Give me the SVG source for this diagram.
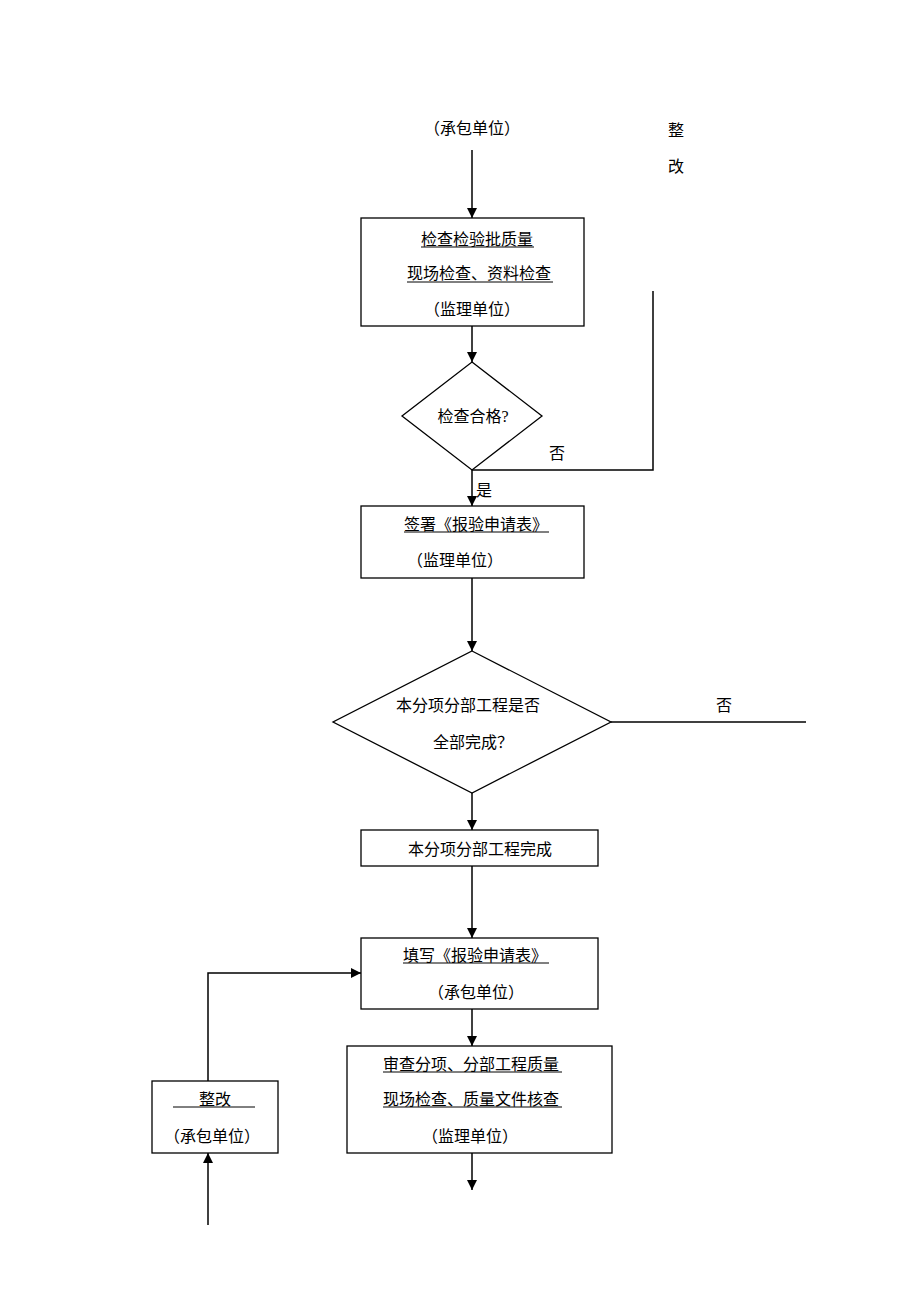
<svg xmlns="http://www.w3.org/2000/svg" width="920" height="1302" viewBox="0 0 920 1302">
<style>
text{font-family:"Liberation Serif","Noto Sans CJK SC",serif;font-size:16px;fill:#000;dominant-baseline:central}
.c{text-anchor:middle}
.s{text-anchor:start}
.box{fill:#fff;stroke:#000;stroke-width:1.3}
.ul{stroke:#000;stroke-width:1}
.ln{fill:none;stroke:#000;stroke-width:1.5}
.arr{fill:none;stroke:#000;stroke-width:1.5;marker-end:url(#ah)}
</style>
<defs>
<marker id="ah" markerWidth="10" markerHeight="10" refX="10" refY="5" orient="auto" markerUnits="userSpaceOnUse">
<path d="M0,0 L10,5 L0,10 Z" fill="#000"/>
</marker>
</defs>
<rect width="920" height="1302" fill="#fff"/>
<g id="connectors">
<line class="arr" x1="472" y1="150" x2="472" y2="218"/>
<line class="arr" x1="472" y1="326" x2="472" y2="362"/>
<polyline class="ln" points="653,291 653,470 472,470"/>
<line class="arr" x1="472" y1="470" x2="472" y2="506"/>
<line class="arr" x1="472" y1="578" x2="472" y2="651"/>
<line class="ln" x1="611" y1="722" x2="806" y2="722"/>
<line class="arr" x1="472" y1="793" x2="472" y2="830"/>
<line class="arr" x1="472" y1="866" x2="472" y2="938"/>
<line class="arr" x1="472" y1="1009" x2="472" y2="1046"/>
<line class="arr" x1="472" y1="1153" x2="472" y2="1190"/>
<line class="arr" x1="208" y1="1225" x2="208" y2="1153"/>
<polyline class="arr" points="208,1081 208,973 361,973"/>
<text class="c" x="557" y="453">否</text>
<text class="c" x="484" y="490">是</text>
<text class="c" x="724" y="705">否</text>
</g>
<g id="start">
<text class="c" x="472" y="128">（承包单位）</text>
</g>
<g id="rectify-top">
<text class="c" x="676" y="130">整</text>
<text class="c" x="676" y="166">改</text>
</g>
<g id="n1">
<rect class="box" x="361" y="218" width="223" height="108"/>
<text class="s" x="421" y="239">检查检验批质量</text>
<line class="ul" x1="421" y1="247" x2="534" y2="247"/>
<text class="s" x="407" y="273">现场检查、资料检查</text>
<line class="ul" x1="407" y1="282" x2="553" y2="282"/>
<text class="c" x="472" y="309">（监理单位）</text>
</g>
<g id="d1">
<polygon class="box" points="472,362 542,416 472,470 402,416"/>
<text class="c" x="473" y="416">检查合格?</text>
</g>
<g id="n2">
<rect class="box" x="361" y="506" width="223" height="72"/>
<text class="s" x="404" y="524">签署《报验申请表》</text>
<line class="ul" x1="404" y1="532" x2="549" y2="532"/>
<text class="c" x="455" y="560">（监理单位）</text>
</g>
<g id="d2">
<polygon class="box" points="472,651 611,722 472,793 333,722"/>
<text class="c" x="468" y="705">本分项分部工程是否</text>
<text class="c" x="473" y="742">全部完成？</text>
</g>
<g id="n3">
<rect class="box" x="361" y="830" width="237" height="36"/>
<text class="c" x="480" y="849">本分项分部工程完成</text>
</g>
<g id="n4">
<rect class="box" x="361" y="938" width="237" height="71"/>
<text class="s" x="403" y="955">填写《报验申请表》</text>
<line class="ul" x1="403" y1="963" x2="549" y2="963"/>
<text class="c" x="476" y="992">（承包单位）</text>
</g>
<g id="n5">
<rect class="box" x="347" y="1046" width="265" height="107"/>
<text class="s" x="383" y="1064">审查分项、分部工程质量</text>
<line class="ul" x1="383" y1="1072" x2="562" y2="1072"/>
<text class="s" x="383" y="1099">现场检查、质量文件核查</text>
<line class="ul" x1="383" y1="1107" x2="562" y2="1107"/>
<text class="c" x="470" y="1136">（监理单位）</text>
</g>
<g id="n6">
<rect class="box" x="152" y="1081" width="126" height="72"/>
<text class="s" x="199" y="1099">整改</text>
<line class="ul" x1="173" y1="1107" x2="255" y2="1107"/>
<text class="c" x="212" y="1136">（承包单位）</text>
</g>
</svg>
